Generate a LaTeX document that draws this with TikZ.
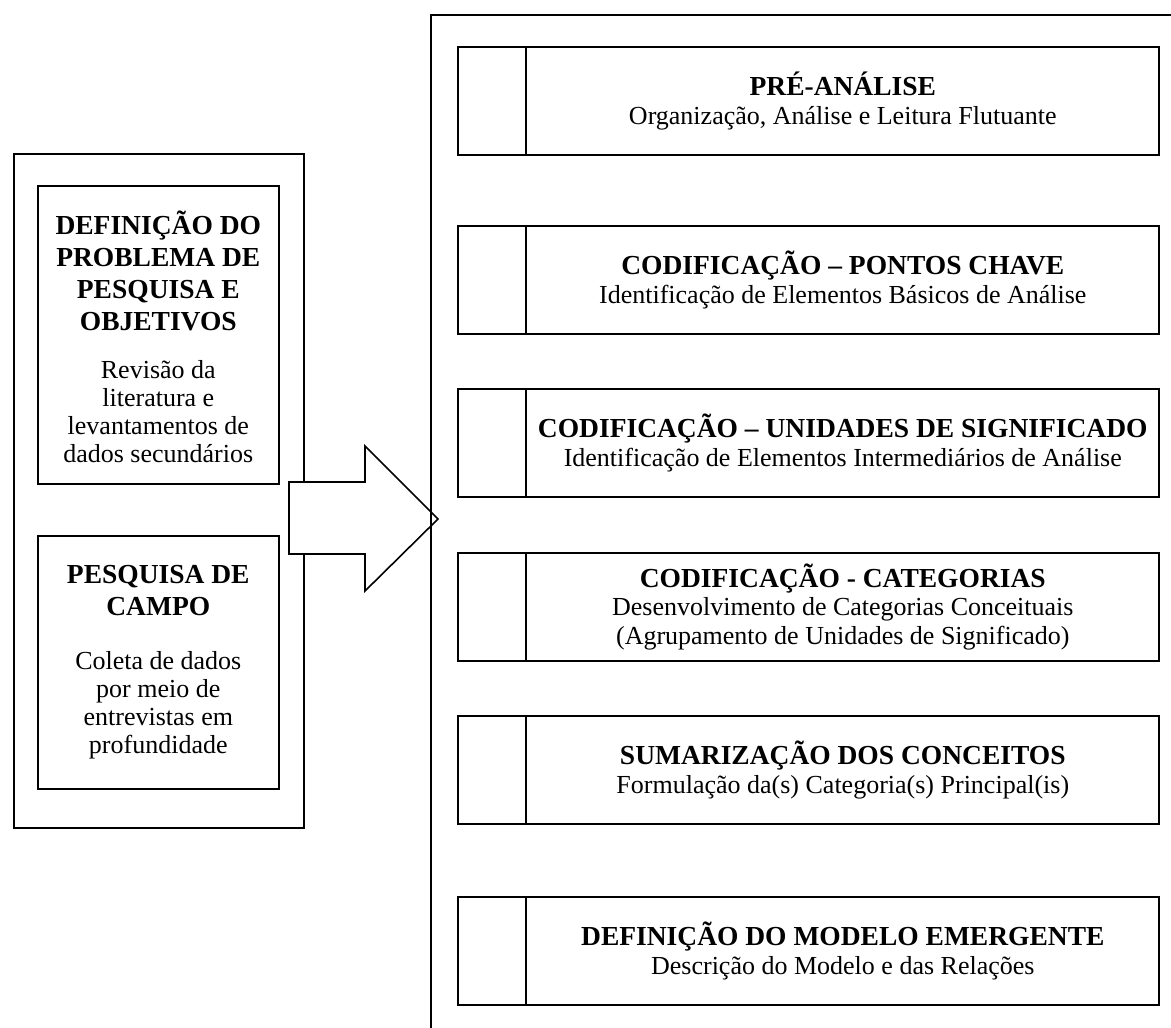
\documentclass[tikz,border=0pt]{standalone}
\usepackage{fontspec}
\setmainfont{Liberation Serif}
\usetikzlibrary{calc}
\begin{document}
\begin{tikzpicture}[x=1pt,y=-1pt,line width=1.6pt,
  frame/.style={draw, line width=1.6pt, inner sep=0pt, anchor=north west},
  stage/.style={frame, minimum width=701pt, minimum height=108pt},
  txt/.style={align=center, inner sep=0pt, font=\fontsize{26}{28.5}\selectfont}]
\useasboundingbox (0,0) rectangle (1171,1028);
\newcommand{\ttlfont}{\bfseries\fontsize{27.5}{28}\selectfont}
% left column
\node[frame, minimum width=290pt, minimum height=674pt] (left) at (13,153) {};
\node[frame, minimum width=241pt, minimum height=298pt] (def) at (37,185) {};
\node[frame, minimum width=241pt, minimum height=253pt] (campo) at (37,535) {};
\node[txt, font=\fontsize{26}{28}\selectfont] (deft) at ($(def.center)+(0,2)$) {{\ttlfont DEFINIÇÃO DO}\\[4pt]{\ttlfont PROBLEMA DE}\\[4pt]{\ttlfont PESQUISA E}\\[4pt]{\ttlfont OBJETIVOS}\\[20pt]Revisão da\\literatura e\\levantamentos de\\dados secundários};
\node[txt, font=\fontsize{26}{28}\selectfont] (campot) at (campo.center) {{\ttlfont PESQUISA DE}\\[4pt]{\ttlfont CAMPO}\\[26pt]Coleta de dados\\por meio de\\entrevistas em\\profundidade};
% arrow
\draw[fill=white, line width=1.6pt, line join=miter] (289,482) coordinate (a1) -- (365,482) -- (365,446) -- (438,519) coordinate (tip) -- (365,591) -- (365,554) -- (289,554) -- cycle;
% right frame
\coordinate (rtop) at (1171,15);
\coordinate (rcorner) at (431,15);
\coordinate (rbot) at (431,1028);
\draw (rtop) -- (rcorner) -- (rbot);
% stages
\foreach \n/\y in {s1/46, s2/225, s3/388, s4/552, s5/715, s6/896}{
  \node[stage] (\n) at (457,\y) {};
  \draw ($(\n.north west)+(69,0)$) -- ($(\n.south west)+(69,0)$);
}
\node[txt] (t1) at ($(s1.center)+(34.5,0)$) {{\ttlfont PRÉ-ANÁLISE}\\Organização, Análise e Leitura Flutuante};
\node[txt] (t2) at ($(s2.center)+(34.5,0)$) {{\ttlfont CODIFICAÇÃO – PONTOS CHAVE}\\Identificação de Elementos Básicos de Análise};
\node[txt] (t3) at ($(s3.center)+(34.5,0)$) {{\ttlfont CODIFICAÇÃO – UNIDADES DE SIGNIFICADO}\\Identificação de Elementos Intermediários de Análise};
\node[txt] (t4) at ($(s4.center)+(34.5,0)$) {{\ttlfont CODIFICAÇÃO - CATEGORIAS}\\Desenvolvimento de Categorias Conceituais\\(Agrupamento de Unidades de Significado)};
\node[txt] (t5) at ($(s5.center)+(34.5,0)$) {{\ttlfont SUMARIZAÇÃO DOS CONCEITOS}\\Formulação da(s) Categoria(s) Principal(is)};
\node[txt] (t6) at ($(s6.center)+(34.5,0)$) {{\ttlfont DEFINIÇÃO DO MODELO EMERGENTE}\\Descrição do Modelo e das Relações};
\end{tikzpicture}
\end{document}
